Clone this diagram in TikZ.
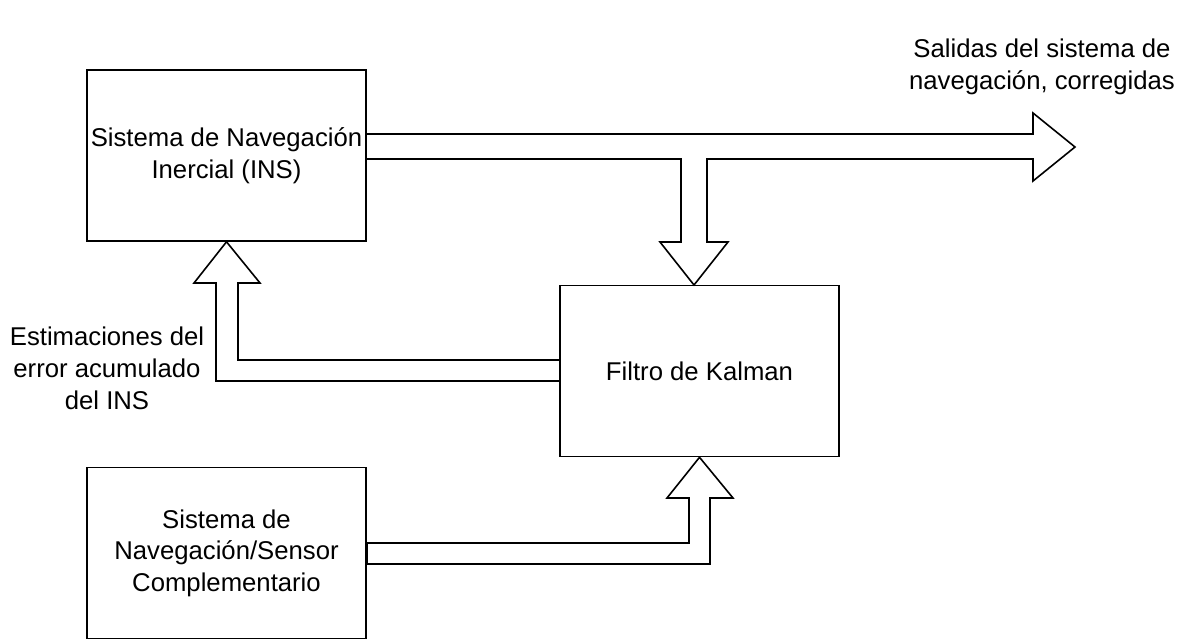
\documentclass[tikz,border=0pt]{standalone}
\usepackage{fontspec}
\setmainfont{Liberation Sans}
\begin{document}
\begin{tikzpicture}[x=1pt,y=-1pt,
  blockbox/.style={draw,line width=1.6pt,minimum width=279pt,minimum height=171pt,inner sep=0pt,align=center,font=\fontsize{25.7}{31.5}\selectfont},
  fatarrow/.style={draw,line width=1.6pt,line join=miter},
  plainlabel/.style={align=center,font=\fontsize{25.7}{32}\selectfont,inner sep=0pt}]
\useasboundingbox (0,0) rectangle (1183,641);
\node[blockbox] (ins) at (226.5,155.5) {Sistema de Navegación\\Inercial (INS)};
\node[blockbox] (kf) at (699.5,371) {Filtro de Kalman};
\node[blockbox] (sens) at (226.5,553) {Sistema de\\Navegación/Sensor\\Complementario};
% top output arrow with branch down to Kalman
\draw[fatarrow] (ins.east |- 0,134) -- (1033,134) -- (1033,113) -- (1075,147) coordinate (outtip) -- (1033,181) -- (1033,159)
  -- (707,159) -- (707,242) -- (728,242) -- (694,285) coordinate (kftip) -- (660,242) -- (681,242) -- (681,159) -- (ins.east |- 0,159);
% feedback arrow from Kalman to INS
\draw[fatarrow] (kf.west |- 0,360) -- (238,360) -- (238,283) -- (260,283) -- (ins.south) -- (194,283) -- (216,283) -- (216,381) -- (kf.west |- 0,381);
% sensor arrow to Kalman
\draw[fatarrow] (367,543) -- (689,543) -- (689,498) -- (667,498) -- (kf.south) -- (733,498) -- (710,498) -- (710,564) -- (367,564) -- cycle;
\node[plainlabel] (outlbl) at (1042,67) {Salidas del sistema de\\navegación, corregidas};
\node[plainlabel] (errlbl) at (107,368) {Estimaciones del\\error acumulado\\del INS};
\end{tikzpicture}
\end{document}
